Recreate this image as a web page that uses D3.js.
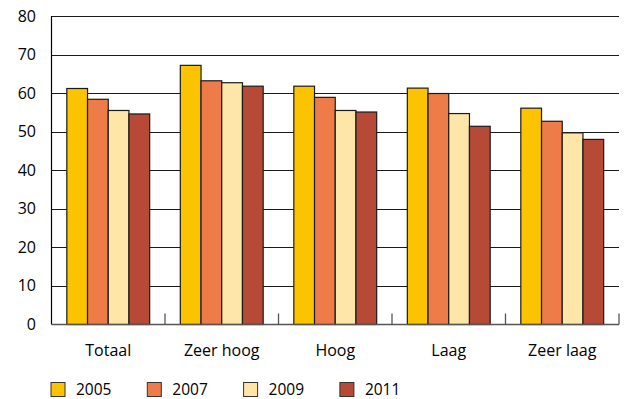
<!DOCTYPE html>
<html><head><meta charset="utf-8">
<script src="https://cdn.jsdelivr.net/npm/d3@7"></script>
<style>body{margin:0;background:#fff}svg{display:block}text{font-family:"Open Sans","Noto Sans",sans-serif;fill:#000}</style>
</head><body><svg id="c" width="624" height="399"></svg>
<script>
const categories = ["Totaal", "Zeer hoog", "Hoog", "Laag", "Zeer laag"];
const years = ["2005", "2007", "2009", "2011"];
const v2005 = [61.2, 67.2, 61.8, 61.3, 56.1];
const v2007 = [58.4, 63.2, 58.9, 59.9, 52.7];
const v2009 = [55.5, 62.7, 55.5, 54.7, 49.7];
const v2011 = [54.6, 61.8, 55.1, 51.4, 48.0];
const yTicks = [0, 10, 20, 30, 40, 50, 60, 70, 80];
const colors = ["#FCC300", "#EE7C48", "#FEE6A8", "#B64A37"];
const series = [v2005, v2007, v2009, v2011];

const svg = d3.select("#c");
const L = 51.5, R = 619, T = 16, B = 324.5;
const y = d3.scaleLinear().domain([0, 80]).range([B, T]);
const x0 = d3.scaleBand().domain(categories).range([L, R]).paddingInner(0.27).paddingOuter(0.135);
const x1 = d3.scaleBand().domain(years).range([0, x0.bandwidth()]);
const step = x0.step();

// gridlines
svg.append("g").selectAll("line").data(yTicks.filter(d => d > 0)).join("line")
  .attr("x1", L).attr("x2", R).attr("y1", d => Math.round(y(d)) + 0.5).attr("y2", d => Math.round(y(d)) + 0.5)
  .attr("stroke", "#1a1a1a").attr("stroke-width", 1);

// y labels
svg.append("g").selectAll("text").data(yTicks).join("text")
  .attr("x", 36).attr("y", d => y(d) + 5.5).attr("text-anchor", "end")
  .attr("font-size", 16).text(d => d);

// bars
const g = svg.append("g");
categories.forEach((c, ci) => {
  years.forEach((yr, si) => {
    const v = series[si][ci];
    g.append("rect")
      .attr("x", x0(c) + x1(yr)).attr("y", y(v))
      .attr("width", x1.bandwidth()).attr("height", B - y(v))
      .attr("fill", colors[si]).attr("stroke", "#1a1a1a").attr("stroke-width", 1.2);
  });
});

// axes
svg.append("line").attr("x1", L).attr("x2", L).attr("y1", T).attr("y2", B).attr("stroke", "#000").attr("stroke-width", 1.2);
svg.append("line").attr("x1", L).attr("x2", R).attr("y1", B).attr("y2", B).attr("stroke", "#555").attr("stroke-width", 1.5);
svg.append("g").selectAll("line").data(d3.range(1, categories.length + 1)).join("line")
  .attr("x1", i => L + i * step).attr("x2", i => L + i * step)
  .attr("y1", B).attr("y2", B - 11).attr("stroke", "#555").attr("stroke-width", 1.3);

// category labels
svg.append("g").selectAll("text").data(categories).join("text")
  .attr("x", d => x0(d) + x0.bandwidth() / 2).attr("y", 356).attr("text-anchor", "middle")
  .attr("font-size", 16).text(d => d);

// legend
const lg = svg.append("g");
years.forEach((yr, i) => {
  const lx = 51 + i * 96.3;
  lg.append("rect").attr("x", lx).attr("y", 382.5).attr("width", 14).attr("height", 14)
    .attr("fill", colors[i]).attr("stroke", "#333").attr("stroke-width", 1);
  lg.append("text").attr("x", lx + 25).attr("y", 394.5).attr("font-size", 15.5).text(yr);
});
</script></body></html>
